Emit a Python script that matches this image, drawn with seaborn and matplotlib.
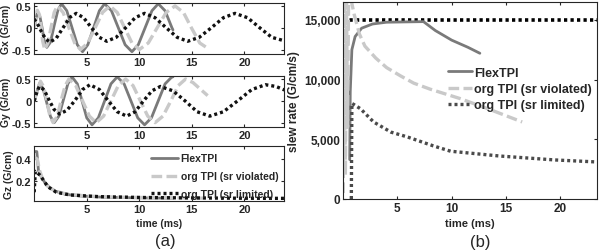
import matplotlib
matplotlib.use("Agg")
import matplotlib.pyplot as plt
import matplotlib.ticker as mticker
import numpy as np
import pandas as pd
import seaborn as sns

# ---- data ----
# panel (a): gradient waveforms, time in ms, G/cm
flex_t_gx = [0, 0.3, 0.55, 0.75, 0.95, 1.2, 1.55, 1.9, 2.25, 2.6, 3.1, 3.6, 4.1, 4.6, 5.1, 5.65, 6.2, 6.7,
             7.35, 8.0, 8.65, 9.3, 9.9, 10.55, 11.2, 11.8, 12.45, 13.1, 13.2]
flex_gx = [0, 0.35, 0.25, 0.0, -0.3, -0.45, -0.33, 0.05, 0.4, 0.55, 0.39, 0.0, -0.39, -0.55, -0.39, 0.0, 0.39, 0.55,
           0.39, 0.0, -0.39, -0.55, -0.39, 0.0, 0.39, 0.55, 0.39, 0.0, -0.05]
flex_t_gy = [0, 0.5, 0.85, 1.2, 1.55, 1.9, 2.35, 2.75, 3.2, 3.6, 4.1, 4.55, 5.0, 5.5, 6.1, 6.7, 7.3, 7.9,
             8.55, 9.2, 9.85, 10.5, 11.15, 11.8, 12.45, 13.1, 13.2]
flex_gy = [0, 0.4, 0.28, -0.05, -0.36, -0.5, -0.35, 0.0, 0.39, 0.55, 0.39, 0.0, -0.39, -0.55, -0.39, 0.0, 0.39, 0.55,
           0.39, 0.0, -0.39, -0.55, -0.39, 0.0, 0.39, 0.55, 0.55]
flex_t_gz = [0, 0.25, 0.4, 0.6, 1.0, 1.5, 2.0, 3.0, 4.5, 6.5, 9.0, 13.2]
flex_gz = [0.47, 0.47, 0.3, 0.25, 0.19, 0.14, 0.11, 0.08, 0.065, 0.055, 0.05, 0.045]

viol_t_gx = [0, 0.3, 0.5, 0.65, 0.8, 1.0, 1.3, 1.6, 1.9, 2.2, 2.75, 3.3, 3.85, 4.4, 5.1, 5.8, 6.5, 7.2,
             7.9, 8.6, 9.3, 10.0, 10.85, 11.7, 12.55, 13.4, 14.2, 14.95, 15.75, 16.5]
viol_gx = [0, 0.4, 0.3, 0.05, -0.3, -0.5, -0.35, 0.0, 0.35, 0.5, 0.35, 0.0, -0.35, -0.5, -0.35, 0.0, 0.35, 0.5,
           0.35, 0.0, -0.35, -0.5, -0.35, 0.0, 0.35, 0.5, 0.35, 0.0, -0.35, -0.47]
viol_t_gy = [0, 0.6, 0.9, 1.2, 1.5, 1.8, 2.2, 2.55, 2.95, 3.3, 3.95, 4.6, 5.25, 5.9, 6.6, 7.3, 8.0, 8.7,
             9.4, 10.1, 10.8, 11.5, 12.25, 13.0, 13.7, 14.4, 15.1, 15.8, 16.5]
viol_gy = [0, 0.45, 0.32, 0.0, -0.35, -0.5, -0.35, 0.0, 0.35, 0.5, 0.35, 0.0, -0.35, -0.5, -0.35, 0.0, 0.35, 0.5,
           0.35, 0.0, -0.35, -0.5, -0.35, 0.0, 0.35, 0.5, 0.42, 0.27, 0.12]
viol_t_gz = [0, 0.3, 0.5, 0.8, 1.2, 2.0, 3.0, 5.0, 8.0, 12.0, 16.5]
viol_gz = [0.42, 0.40, 0.3, 0.22, 0.16, 0.11, 0.085, 0.065, 0.055, 0.05, 0.045]

lim_t_gx = [0, 0.4, 0.75, 1.1, 1.5, 2.1, 2.75, 3.4, 4.0, 4.7, 5.45, 6.2, 6.9, 7.8, 8.7, 9.6, 10.5,
            11.5, 12.55, 13.6, 14.6, 15.7, 16.85, 18.0, 19.1, 20.3, 21.45, 22.6, 23.8]
lim_gx = [0.2, 0.05, -0.12, -0.26, -0.33, -0.24, 0.0, 0.24, 0.33, 0.23, 0.0, -0.22, -0.31, -0.22, 0.0, 0.23, 0.33,
          0.23, 0.0, -0.22, -0.31, -0.22, 0.0, 0.23, 0.33, 0.23, 0.0, -0.22, -0.3]
lim_t_gy = [0, 0.25, 0.5, 0.95, 1.45, 1.9, 2.4, 3.1, 3.85, 4.6, 5.3, 6.2, 7.05, 7.9, 8.8, 9.6, 10.4,
            11.2, 12.0, 13.2, 14.35, 15.5, 16.7, 18.0, 19.35, 20.7, 22.0, 23.0, 23.8]
lim_gy = [0.0, 0.2, 0.33, 0.25, 0.0, -0.2, -0.3, -0.22, 0.0, 0.26, 0.37, 0.26, 0.0, -0.25, -0.35, -0.25, 0.0,
          0.23, 0.33, 0.23, 0.0, -0.25, -0.35, -0.25, 0.0, 0.26, 0.37, 0.33, 0.25]
lim_t_gz = [0, 0.1, 0.5, 0.8, 1.3, 2.1, 3.4, 6.0, 10.0, 15.0, 20.0, 23.8]
lim_gz = [0.1, 0.29, 0.26, 0.22, 0.15, 0.1, 0.075, 0.06, 0.052, 0.048, 0.045, 0.044]

# panel (b): slew rate, G/cm/s
flex_t_sr = [0.6, 0.65, 0.8, 1.1, 1.7, 2.7, 4.0, 7.4, 8.5, 10.0, 11.5, 12.6]
flex_sr = [3300, 9000, 12500, 13600, 14300, 14650, 14800, 14850, 14100, 13300, 12700, 12200]
viol_t_sr = [0.0, 0.1, 0.2, 0.3, 0.4, 0.5, 0.7, 1.0, 1.5, 2.0, 3.0, 4.0, 5.3, 6.5, 8.0, 10.8, 13.5, 16.5]
viol_sr = [500, 17000, 2000, 17000, 6000, 17000, 16800, 15500, 13800, 12800, 11800, 11000, 10300, 9700, 9200,
           8400, 7500, 6450]
lim_t_sr = [0.75, 0.8, 1.0, 1.6, 2.8, 4.4, 5.9, 8.3, 9.9, 14.4, 19.5, 23.4]
lim_sr = [0, 8000, 7900, 7550, 6450, 5600, 5200, 4450, 4000, 3600, 3270, 3100]
sr_limit_t = [0, 23.4]
sr_limit = [15000, 15000]

labels = ["FlexTPI", "org TPI (sr violated)", "org TPI (sr limited)"]

# ---- style ----
sns.set_style("ticks")
plt.rcParams["font.family"] = ["Liberation Sans", "DejaVu Sans"]
plt.rcParams["font.weight"] = "bold"
plt.rcParams["axes.labelweight"] = "bold"
plt.rcParams["xtick.direction"] = "in"
plt.rcParams["ytick.direction"] = "in"
plt.rcParams["xtick.top"] = True
plt.rcParams["ytick.right"] = True
plt.rcParams["xtick.major.size"] = 2.5
plt.rcParams["ytick.major.size"] = 2.5
plt.rcParams["xtick.labelsize"] = 8
plt.rcParams["ytick.labelsize"] = 8
plt.rcParams["axes.linewidth"] = 0.8

c_flex = "#7a7a7a"
c_viol = "#c9c9c9"
c_lim = "#111111"
c_lim_b = "#4a4a4a"

st_flex = dict(color=c_flex, linewidth=2.0)
st_viol = dict(color=c_viol, linewidth=2.4, dashes=(3.2, 1.3))
st_lim = dict(color=c_lim, linewidth=2.4, dashes=(0.9, 0.9))

fig = plt.figure(figsize=(6.0, 2.53), dpi=100)
ax_x = fig.add_axes([0.057, 0.783, 0.417, 0.2016])
ax_y = fig.add_axes([0.057, 0.494, 0.417, 0.2016])
ax_z = fig.add_axes([0.057, 0.2016, 0.417, 0.217])
ax_s = fig.add_axes([0.572, 0.2095, 0.423, 0.779])


def draw(ax, t, v, st, label=None):
    df = pd.DataFrame({"t": t, "v": v})
    kw = dict(st)
    dashes = kw.pop("dashes", None)
    sns.lineplot(data=df, x="t", y="v", ax=ax, label=label, sort=False, **kw)
    line = ax.lines[-1]
    if dashes is not None:
        line.set_dashes(dashes)
    return line


for ax, ft, fv, vt, vv, lt, lv, name in [
    (ax_x, flex_t_gx, flex_gx, viol_t_gx, viol_gx, lim_t_gx, lim_gx, "Gx (G/cm)"),
    (ax_y, flex_t_gy, flex_gy, viol_t_gy, viol_gy, lim_t_gy, lim_gy, "Gy (G/cm)"),
]:
    draw(ax, ft, fv, st_flex)
    draw(ax, vt, vv, st_viol)
    draw(ax, lt, lv, st_lim)
    ax.set_xlim(0, 23.8)
    ax.set_ylim(-0.6, 0.57)
    ax.set_yticks([-0.5, 0, 0.5])
    ax.yaxis.set_major_formatter(mticker.FuncFormatter(lambda v, p: "0" if v == 0 else f"{v:g}"))
    ax.set_xticks([5, 10, 15, 20])
    ax.set_xlabel("")
    ax.set_ylabel(name, fontsize=7.5, labelpad=1)
    ax.tick_params(pad=2)

lf = draw(ax_z, flex_t_gz, flex_gz, st_flex, labels[0])
lvz = draw(ax_z, viol_t_gz, viol_gz, st_viol, labels[1])
llz = draw(ax_z, lim_t_gz, lim_gz, st_lim, labels[2])
ax_z.set_xlim(0, 23.8)
ax_z.set_ylim(0.02, 0.52)
ax_z.set_yticks([0.2, 0.4])
ax_z.set_xticks([5, 10, 15, 20])
ax_z.set_xlabel("time (ms)", fontsize=7.5, labelpad=3)
ax_z.set_ylabel("Gz (G/cm)", fontsize=7.5, labelpad=1)
ax_z.tick_params(pad=2)
ax_z.legend(handles=[lf, lvz, llz], labels=labels, loc="upper right", bbox_to_anchor=(1.0, 0.98),
            frameon=False, fontsize=7.5, handlelength=2.6, handletextpad=0.2, labelspacing=0.75,
            borderaxespad=0.2)

# panel (b)
draw(ax_s, sr_limit_t, sr_limit, dict(color="#000000", linewidth=2.6, dashes=(0.9, 0.9)))
sf = draw(ax_s, flex_t_sr, flex_sr, st_flex, labels[0])
sv = draw(ax_s, viol_t_sr, viol_sr, st_viol, labels[1])
sl = draw(ax_s, lim_t_sr, lim_sr, dict(color=c_lim_b, linewidth=2.4, dashes=(0.9, 0.9)), labels[2])
ax_s.set_xlim(0, 23.4)
ax_s.set_ylim(0, 16500)
ax_s.set_yticks([0, 5000, 10000, 15000])
ax_s.yaxis.set_major_formatter(mticker.FuncFormatter(lambda v, p: f"{int(v):,}"))
ax_s.set_xticks([5, 10, 15, 20])
ax_s.tick_params(labelsize=8.5, pad=2)
ax_s.set_xlabel("time (ms)", fontsize=8, labelpad=3)
ax_s.set_ylabel("slew rate (G/cm/s)", fontsize=8.5, labelpad=3)
ax_s.legend(handles=[sf, sv, sl], labels=labels, loc="upper right", bbox_to_anchor=(1.01, 0.71),
            frameon=False, fontsize=9, handlelength=1.9, handletextpad=0.2, labelspacing=0.35,
            borderaxespad=0.2)

fig.text(0.276, 0.045, "(a)", ha="center", va="center", fontsize=12, fontweight="normal")
fig.text(0.8, 0.04, "(b)", ha="center", va="center", fontsize=12, fontweight="normal")

fig.savefig("out.png", dpi=100)
